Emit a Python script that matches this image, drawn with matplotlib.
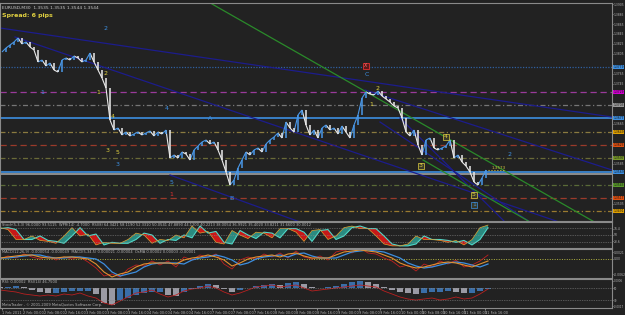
import matplotlib
matplotlib.use("Agg")
import matplotlib.pyplot as plt
import numpy as np
from matplotlib.collections import LineCollection

# ---------------- data ----------------
closes = [1.3809, 1.3817, 1.3823, 1.3829, 1.3837, 1.3825, 1.3829, 1.3819, 1.3813, 1.3789,
          1.3793, 1.3781, 1.3787, 1.3773, 1.3769, 1.3793, 1.3797, 1.3793, 1.3801, 1.3797,
          1.3789, 1.3793, 1.3807, 1.3789, 1.3773, 1.3757, 1.3737, 1.3673, 1.3653, 1.3657,
          1.3643, 1.3649, 1.3641, 1.3645, 1.3649, 1.3643, 1.3647, 1.3651, 1.3641, 1.3649,
          1.3645, 1.3653, 1.3597, 1.3603, 1.3597, 1.3609, 1.3605, 1.3593, 1.3613, 1.3621,
          1.3629, 1.3633, 1.3625, 1.3629, 1.3613, 1.3593, 1.3569, 1.3543, 1.3553, 1.3577,
          1.3593, 1.3609, 1.3603, 1.3613, 1.3617, 1.3609, 1.3625, 1.3633, 1.3639, 1.3647,
          1.3637, 1.3669, 1.3657, 1.3649, 1.3683, 1.3693, 1.3663, 1.3643, 1.3653, 1.3637,
          1.3657, 1.3663, 1.3653, 1.3657, 1.3645, 1.3661, 1.3649, 1.3637, 1.3663, 1.3683,
          1.3717, 1.3729, 1.3725, 1.3723, 1.3731, 1.3721, 1.3715, 1.3709, 1.3701, 1.3697,
          1.3677, 1.3649, 1.3641, 1.3653, 1.3623, 1.3603, 1.3633, 1.3637, 1.3617, 1.3613,
          1.3617, 1.3621, 1.3633, 1.3597, 1.3603, 1.3589, 1.3581, 1.3569, 1.3549, 1.3543,
          1.3557, 1.3573]

# horizontal levels: price, line colour, style, label box colour
level_prices = [1.3779, 1.3729, 1.3703, 1.3677, 1.3649, 1.3623, 1.3597, 1.3569, 1.3565, 1.3543, 1.3517, 1.3491]
level_colors = ['#2f5f9f', '#9a3a9a', '#767676', '#3d8fe0', '#8a7a40', '#9a3a2a', '#6a6a38', '#3d8fe0', '#a0a0a0', '#5a6a38', '#9a3a2a', '#9a7a30']
level_styles = ['dotted', 'dashed', 'dashdot', 'solid', 'dashdot', 'dashed', 'dashdot', 'solid', 'solid', 'dashdot', 'dashed', 'dashdot']
level_boxes = ['#3d8fe0', '#d000d0', '#9a9a9a', '#3d8fe0', '#e0a000', '#e05010', '#7a9a2a', '#3d8fe0', None, '#5a9a2a', '#e05010', '#e0a000']

# trend lines: (x0, p0, x1, p1, colour)
trend_lines = [(-0.5, 1.3857, 152.5, 1.3679, '#1c1c8c'),
               (3.25, 1.3839, 152.5, 1.3433, '#1c1c8c'),
               (90.75, 1.3733, 152.5, 1.3573, '#1c1c8c'),
               (42.0, 1.3563, 74.5, 1.3469, '#1c1c8c'),
               (99.5, 1.3677, 125.75, 1.3469, '#1c1c8c'),
               (94.5, 1.3669, 132.0, 1.3469, '#1c1c8c'),
               (50.75, 1.3913, 152.5, 1.3449, '#2a8a2a'),
               (105.25, 1.3593, 132.0, 1.3469, '#2a8a2a')]

# wave labels: (x, price, text, colour, boxed)
wave_labels = [(25.75, 1.3857, '2', '#3d8fe0', False),
               (26.0, 1.3765, '2', '#e0d040', False),
               (24.0, 1.3729, '1', '#e0d040', False),
               (10.0, 1.3729, '1', '#3d8fe0', False),
               (27.75, 1.3679, '4', '#e0d040', False),
               (26.5, 1.3613, '3', '#e0d040', False),
               (29.0, 1.3607, '5', '#e0d040', False),
               (29.0, 1.3583, '3', '#3d8fe0', False),
               (41.25, 1.3695, '4', '#3d8fe0', False),
               (42.5, 1.3547, '5', '#3d8fe0', False),
               (42.25, 1.3523, '1', '#e03030', False),
               (52.0, 1.3677, 'A', '#3d8fe0', False),
               (57.25, 1.3517, 'B', '#3d8fe0', False),
               (91.25, 1.3763, 'C', '#3d8fe0', False),
               (94.0, 1.3735, '2', '#e0d040', False),
               (92.25, 1.3703, '1', '#e0d040', False),
               (104.75, 1.3581, '3', '#e0d040', True),
               (111.0, 1.3639, '4', '#e0d040', True),
               (118.0, 1.3523, '5', '#e0d040', True),
               (118.0, 1.3503, '1', '#3d8fe0', True),
               (127.0, 1.3603, '2', '#3d8fe0', False)]

# oscillator panel (8-px steps)
osc_slow = [77, 81, 73, 31, 31, 46, 27, 23, 15, 46, 81, 46, 54, 8, 19, 15, 15, 31, 58, 50,
            15, 31, 27, 50, 38, 88, 58, 65, 19, 12, 69, 50, 35, 62, 58, 38, 77, 77, 62, 23,
            69, 73, 31, 46, 81, 88, 77, 77, 46, 12, 4, 4, 12, 46, 31, 31, 27, 19, 27, 8, 31, 81]
osc_fast = [81, 73, 31, 31, 46, 27, 23, 15, 46, 81, 46, 54, 8, 19, 15, 15, 31, 58, 50, 15,
            31, 27, 50, 38, 88, 58, 65, 19, 12, 69, 50, 35, 62, 58, 38, 77, 77, 62, 23, 69,
            73, 31, 46, 81, 88, 77, 77, 46, 12, 4, 4, 12, 46, 31, 31, 27, 19, 27, 8, 31, 81, 92]

# MACD panel
macd_main = [0.0002, 0.0004, 0.0006, 0.0008, 0.0008, 0.0004, 0.0002, 0.0002, 0.0004, 0.0004,
             0.0002, 0.0, -0.0010, -0.0026, -0.0036, -0.0030, -0.0026, -0.0016, -0.0010, -0.0008,
             -0.0008, -0.0008, -0.0010, -0.0002, 0.0002, 0.0004, 0.0008, 0.0004, -0.0002, -0.0014,
             -0.0008, 0.0, 0.0004, 0.0006, 0.0008, 0.0004, 0.0010, 0.0012, 0.0006, 0.0002,
             0.0002, 0.0002, 0.0008, 0.0014, 0.0016, 0.0018, 0.0016, 0.0014, 0.0008, 0.0002,
             -0.0008, -0.0014, -0.0018, -0.0016, -0.0012, -0.0008, -0.0006, -0.0008, -0.0012, -0.0016,
             -0.0010, -0.0004]
macd_signal = [0.0002, 0.0002, 0.0004, 0.0006, 0.0008, 0.0008, 0.0004, 0.0002, 0.0002, 0.0004,
               0.0004, 0.0002, 0.0, -0.0010, -0.0026, -0.0034, -0.0030, -0.0026, -0.0016, -0.0010,
               -0.0008, -0.0008, -0.0008, -0.0010, -0.0002, 0.0002, 0.0004, 0.0008, 0.0004, -0.0002,
               -0.0012, -0.0008, 0.0, 0.0004, 0.0006, 0.0008, 0.0004, 0.0010, 0.0012, 0.0006,
               0.0002, 0.0002, 0.0002, 0.0008, 0.0014, 0.0016, 0.0018, 0.0016, 0.0014, 0.0008,
               0.0002, -0.0008, -0.0014, -0.0018, -0.0016, -0.0012, -0.0008, -0.0006, -0.0008, -0.0012,
               -0.0016, -0.0010]
macd_red = [0.0000, 0.0006, 0.0002, 0.0010, 0.0004, 0.0000, 0.0006, -0.0002, 0.0004, 0.0000,
            0.0004, -0.0006, -0.0018, -0.0034, -0.0030, -0.0036, -0.0020, -0.0012, -0.0014, -0.0004,
            -0.0012, -0.0004, -0.0016, 0.0004, -0.0002, 0.0008, 0.0004, 0.0010, -0.0010, -0.0020,
            -0.0002, 0.0004, 0.0000, 0.0010, 0.0004, 0.0012, 0.0002, 0.0016, 0.0004, 0.0000,
            0.0006, -0.0002, 0.0014, 0.0018, 0.0012, 0.0022, 0.0012, 0.0010, 0.0002, -0.0004,
            -0.0016, -0.0012, -0.0024, -0.0010, -0.0016, -0.0004, -0.0010, -0.0002, -0.0016, -0.0012,
            -0.0004, 0.0008]

# histogram panel
hist_vals = [1, 1, 2, 1, -2, -4, -5, -5, -4, -3, -3, -3, -6, -15, -17, -12, -10, -7, -5, -4,
             -4, -7, -8, -4, -1, 2, 4, 3, -1, -4, -2, 0, 2, 3, 4, 3, 5, 6, 4, 1,
             0, 1, 2, 4, 6, 7, 6, 4, 1, -2, -4, -5, -6, -5, -4, -4, -3, -4, -5, -5, -3, -1]
hist_line = [-2, -3, -4, -6, -7, -8, -7, -8, -6, -7, -5, -8, -10, -15, -17, -13, -9, -5, -4, -2,
             -6, -9, -7, -3, -1, 0, 2, 0, -4, -7, -5, -2, 1, 2, 3, 1, 2, 3, 0, -3,
             -2, -1, 0, 1, 2, 3, 2, 1, -3, -6, -9, -11, -12, -11, -10, -12, -11, -9, -11, -10, -6, -1]

time_labels = ['1 Feb 2011', '2 Feb 00:00', '2 Feb 08:00', '2 Feb 16:00', '3 Feb 00:00', '3 Feb 08:00',
               '3 Feb 16:00', '4 Feb 00:00', '4 Feb 08:00', '4 Feb 16:00', '7 Feb 00:00', '7 Feb 08:00',
               '7 Feb 16:00', '8 Feb 00:00', '8 Feb 08:00', '8 Feb 16:00', '9 Feb 00:00', '9 Feb 08:00',
               '9 Feb 16:00', '10 Feb 00:00', '10 Feb 08:00', '10 Feb 16:00', '11 Feb 00:00', '11 Feb 16:00']

# ---------------- style ----------------
BG = '#222222'
GRID = '#8a8a8a'
TXT = '#b4b4b4'
W, H = 625, 315
XL = (-0.5, 152.5)

fig = plt.figure(figsize=(W / 100, H / 100), dpi=100, facecolor=BG)


def make_ax(top, bottom):
    a = fig.add_axes([0, (H - bottom) / H, 612 / W, (bottom - top) / H])
    a.set_facecolor(BG)
    for s in a.spines.values():
        s.set_color(GRID)
        s.set_linewidth(0.8)
    a.set_xlim(*XL)
    a.tick_params(axis='x', bottom=False, labelbottom=False)
    a.yaxis.tick_right()
    a.tick_params(axis='y', colors=TXT, labelsize=2.2, length=1.0, width=0.5, pad=0.4)
    return a


# ---------------- main panel ----------------
ax = make_ax(3, 221)
ax.set_ylim(1.3471, 1.3907)
boxed_prices = np.array([p for p, b in zip(level_prices, level_boxes) if b])
yt = [v for v in np.arange(1.3485, 1.3906, 0.0020) if np.min(np.abs(boxed_prices - v)) > 0.0009]
ax.set_yticks(yt)
ax.set_yticklabels([f'{v:.4f}' for v in yt])

for p, c, st, bx in zip(level_prices, level_colors, level_styles, level_boxes):
    ls = {'dotted': (0, (1, 1.2)), 'dashed': (0, (5, 3)), 'dashdot': (0, (4, 2, 1, 2)), 'solid': '-'}[st]
    ax.axhline(p, color=c, ls=ls, lw=1.2 if st == 'solid' else 0.9, zorder=1)
    if bx:
        ax.text(1.002, p, f'{p:.4f}', transform=ax.get_yaxis_transform(), fontsize=2.2,
                color='#101010', va='center', ha='left', clip_on=False,
                bbox=dict(boxstyle='square,pad=0.15', fc=bx, ec='none'))

for x0, p0, x1, p1, c in trend_lines:
    ax.plot([x0, x1], [p0, p1], color=c, lw=0.9, zorder=2)

c = np.array(closes)
xs = np.arange(len(c))
up_col, dn_col = '#4a98e8', '#eaeaea'
segs = [[(xs[i - 1], c[i - 1]), (xs[i], c[i])] for i in range(1, len(c))]
cols = [up_col if c[i] >= c[i - 1] else dn_col for i in range(1, len(c))]
ax.add_collection(LineCollection(segs, colors=cols, linewidths=0.8, zorder=4))
prev = np.r_[c[0], c[:-1]]
bar_cols = [up_col if c[i] >= prev[i] else dn_col for i in range(len(c))]
ax.vlines(xs, np.minimum(prev, c), np.maximum(prev, c), colors=bar_cols, lw=1.1, zorder=4)

for x, p, s, col, boxed in wave_labels:
    kw = {}
    if boxed:
        kw['bbox'] = dict(boxstyle='square,pad=0.15', fc='#3a3a2a', ec=col, lw=0.5)
    ax.text(x, p, s, color=col, fontsize=4.5, ha='center', va='center', zorder=6, **kw)

# red marker above C
ax.text(91.0, 1.3781, 'X', color='#ff7070', fontsize=3.5, ha='center', va='center', zorder=6,
        bbox=dict(boxstyle='square,pad=0.2', fc='#5a1a1a', ec='#e03030', lw=0.6))

# last price marker
ax.plot([len(c) - 0.5, len(c) + 3.5], [c[-1], c[-1]], color='#d0c040', ls=':', lw=0.8, zorder=5)
ax.text(len(c) + 0.5, c[-1], f'{c[-1]:.4f}', color='#d0c040', fontsize=3, va='bottom', ha='left', zorder=6)

ax.text(0.004, 0.985, 'EURUSD,M30  1.3535 1.3535 1.3544 1.3544', transform=ax.transAxes,
        color='#c8c8c8', fontsize=3.2, va='top', ha='left')
ax.text(0.004, 0.955, 'Spread: 6 pips', transform=ax.transAxes,
        color='#e0d040', fontsize=4.5, va='top', ha='left', fontweight='bold')

# ---------------- oscillator panel ----------------
ax2 = make_ax(222, 248)
ax2.set_ylim(-5, 105)
xj = np.arange(len(osc_slow)) * 2 - 0.5
fs = np.array(osc_fast, dtype=float)
sl = np.array(osc_slow, dtype=float)
ax2.fill_between(xj, fs, sl, where=fs < sl, color='#c81818', interpolate=True, lw=0)
ax2.fill_between(xj, fs, sl, where=fs >= sl, color='#2a8a80', interpolate=True, lw=0)
ax2.plot(xj, sl, color='#50d8c8', lw=0.8)
ax2.plot(xj, fs, color='#e0a030', lw=0.5)
for lv in (20, 50, 80):
    ax2.axhline(lv, color=GRID, ls=(0, (1, 1.5)), lw=0.5)
ax2.set_yticks([76.4, 50, 23.6])
ax2.set_yticklabels(['76.4', '50', '23.6'])
ax2.text(0.004, 0.97, 'Stoch(5,3,3) 96.0000 93.5115  WPR(14) -4.7000  RSI(8) 64.3421 58.1190 '
         '52.3310 50.0541 47.8890 44.1200 40.2213 38.0054 36.9921 35.4020 33.8211 31.6600 30.0012',
         transform=ax2.transAxes, color=TXT, fontsize=2.6, va='top', ha='left')

# ---------------- MACD panel ----------------
ax3 = make_ax(249, 278)
ax3.set_ylim(-0.0038, 0.0020)
ax3.axhline(0, color='#b0b040', ls=(0, (1, 1.5)), lw=0.7)
ax3.plot(xj, macd_red, color='#c02020', lw=0.6)
ax3.plot(xj, macd_signal, color='#3d8fe0', lw=0.9)
ax3.plot(xj, macd_main, color='#e09030', lw=0.8)
ax3.set_yticks([0.0014, 0.0, -0.0030])
ax3.set_yticklabels(['0.0021', '0.00', '-0.0062'])
ax3.text(0.004, 0.97, 'MACD(12,26,9) -0.000054 -0.000049  MACD(5,34,5) 0.000021 -0.00004  '
         'OsMA 0.00002 0.00003 -0.00001', transform=ax3.transAxes, color=TXT,
         fontsize=2.6, va='top', ha='left')

# ---------------- histogram panel ----------------
ax4 = make_ax(279, 308)
ax4.set_ylim(-20, 9)
hv = np.array(hist_vals)
hcol = ['#3a6ea8' if (i > 0 and hv[i] >= hv[i - 1]) else '#9a9aa4' for i in range(len(hv))]
ax4.bar(xj, hv, width=1.3, color=hcol, lw=0)
ax4.plot(xj, hist_line, color='#b82020', lw=0.6)
ax4.axhline(0, color=GRID, ls=(0, (1, 1.5)), lw=0.5)
ax4.axhline(-12, color=GRID, ls=(0, (1, 1.5)), lw=0.5)
ax4.set_yticks([7, 0, -12, -18])
ax4.set_yticklabels(['0.0006', '50', '30', '-0.0017'])
ax4.tick_params(axis='y', labelsize=2.0)
ax4.text(0.004, 0.97, 'RSI: 0.00002  RSI(14) 46.7500', transform=ax4.transAxes, color=TXT,
         fontsize=2.6, va='top', ha='left')
ax4.text(0.004, 0.04, 'MetaTrader - \u00a9 2001-2009 MetaQuotes Software Corp.', transform=ax4.transAxes,
         color=TXT, fontsize=2.6, va='bottom', ha='left')

tick_pos = np.arange(len(time_labels)) * 5.25
ax4.tick_params(axis='x', bottom=True, labelbottom=True, colors=TXT, labelsize=2.5,
                length=1.5, width=0.5, pad=0.8)
ax4.set_xticks(tick_pos)
ax4.set_xticklabels(time_labels, ha='left')

fig.savefig('out.png', dpi=100, facecolor=BG)
